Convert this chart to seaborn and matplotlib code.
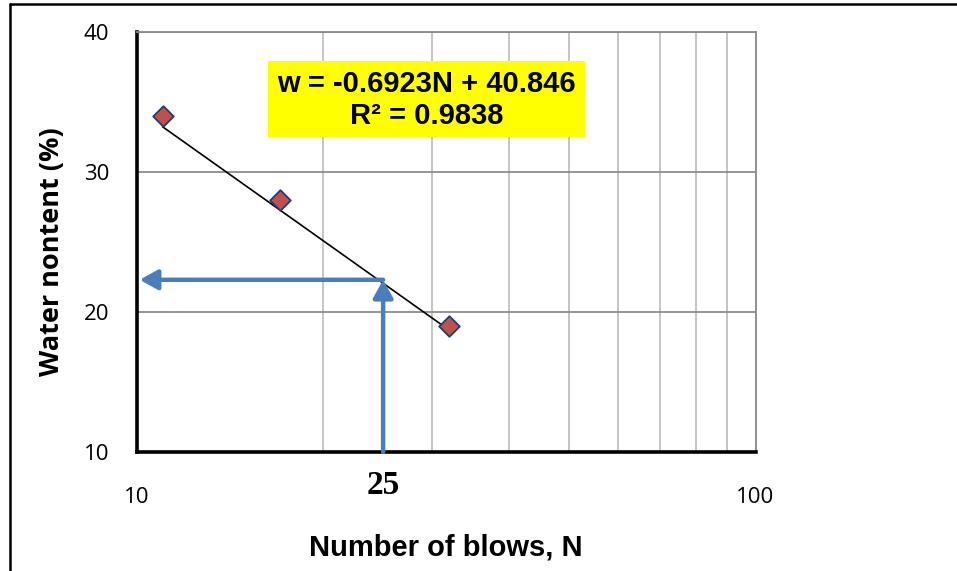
import numpy as np
import pandas as pd
import matplotlib
matplotlib.use("Agg")
import matplotlib.pyplot as plt
from matplotlib.lines import Line2D
import seaborn as sns

# Data
blows = [11, 17, 32]
water_content = [34, 28, 19]
n_target = 25
w_target = 22.3
x_ticks = [10, 100]
y_ticks = [10, 20, 30, 40]
eq_line1 = "w = -0.6923N + 40.846"
eq_line2 = "R² = 0.9838"
x_label = "Number of blows, N"
y_label = "Water nontent (%)"

sns.set_theme(style="white")
plt.rcParams['font.family'] = ['Liberation Sans', 'DejaVu Sans']
plt.rcParams['text.color'] = 'black'
plt.rcParams['axes.labelcolor'] = 'black'

fig = plt.figure(figsize=(9.57, 5.71), dpi=100)
ax = fig.add_axes([137/957, 1-452/571, (755.5-137)/957, (452-32)/571])

df = pd.DataFrame({"N": blows, "w": water_content})

# Trendline (linear fit in N), drawn between the fitted end values
coef = np.polyfit(df["N"], df["w"], 1)
n_line = np.array([min(blows), max(blows)])
sns.lineplot(x=n_line, y=np.polyval(coef, n_line), ax=ax, color="black", lw=1.2, zorder=3)

sns.scatterplot(data=df, x="N", y="w", ax=ax, marker="D", s=110, color="#C0504D",
                edgecolor="#1F3F6E", linewidth=1.3, zorder=4)

ax.set_xscale("log")
ax.set_xlim(10, 100)
ax.set_ylim(10, 40)
ax.set_xticks(x_ticks)
ax.set_xticklabels([str(t) for t in x_ticks])
ax.set_yticks(y_ticks)
ax.set_yticklabels([str(t) for t in y_ticks])
ax.xaxis.set_minor_locator(matplotlib.ticker.LogLocator(base=10, subs=np.arange(2, 10)))
ax.xaxis.set_minor_formatter(matplotlib.ticker.NullFormatter())
ax.tick_params(axis="both", which="both", length=0, labelsize=16.5, colors="black")
ax.tick_params(axis="x", pad=25)
ax.tick_params(axis="y", pad=20)
for lab in ax.get_xticklabels() + ax.get_yticklabels():
    lab.set_family(["Open Sans", "DejaVu Sans"])
    lab.set_fontsize(16)

ax.grid(False)
ax.grid(True, axis="y", which="major", color="#8c8c8c", lw=1.3, zorder=0)
ax.grid(True, axis="x", which="both", color="#bfbfbf", lw=1.3, zorder=0)
ax.set_axisbelow(True)

for s in ["left", "bottom"]:
    ax.spines[s].set_color("black")
    ax.spines[s].set_linewidth(2.6)
for s in ["top", "right"]:
    ax.spines[s].set_color("#8a8a8a")
    ax.spines[s].set_linewidth(1.3)

ax.set_xlabel(x_label, fontsize=21, fontweight="bold")
ax.xaxis.set_label_coords(0.5, -0.193)
ax.set_ylabel(y_label, fontsize=19.5, fontweight="bold",
              family=["Open Sans", "DejaVu Sans"])
ax.yaxis.set_label_coords(-0.1165, 0.476)

# Arrows
arrow_color = "#4A7EBB"
ax.annotate("", xy=(n_target, w_target), xytext=(n_target, 10),
            arrowprops=dict(arrowstyle="-|>,head_length=0.9,head_width=0.5", color=arrow_color,
                            lw=3.2, shrinkA=0, shrinkB=0), zorder=5)
ax.annotate("", xy=(10.1, w_target), xytext=(n_target, w_target),
            arrowprops=dict(arrowstyle="-|>,head_length=0.9,head_width=0.5", color=arrow_color,
                            lw=3.2, shrinkA=0, shrinkB=0), zorder=5)

ax.text(n_target, -0.08, str(n_target), transform=ax.get_xaxis_transform(),
        ha="center", va="center", fontsize=24, fontweight="bold",
        family=["Liberation Serif", "DejaVu Serif"])

# Equation box
fig.patches.append(plt.Rectangle((268/957, 1-137/571), (585-268)/957, (137-61)/571,
                                 transform=fig.transFigure, facecolor="#FFFF00",
                                 edgecolor="none", zorder=6))
fig.text((268+585)/2/957, 1-84/571, eq_line1, ha="center", va="center",
         fontsize=21, fontweight="bold", zorder=7)
fig.text((268+585)/2/957, 1-116/571, eq_line2, ha="center", va="center",
         fontsize=21, fontweight="bold", zorder=7)

# Outer frame
fig.add_artist(Line2D([9.5/957, 9.5/957], [0, 1-3.5/571], transform=fig.transFigure,
                      color="black", lw=1.8))
fig.add_artist(Line2D([9.5/957, 1], [1-3.5/571, 1-3.5/571], transform=fig.transFigure,
                      color="black", lw=1.8))

fig.savefig("out.png", dpi=100)
